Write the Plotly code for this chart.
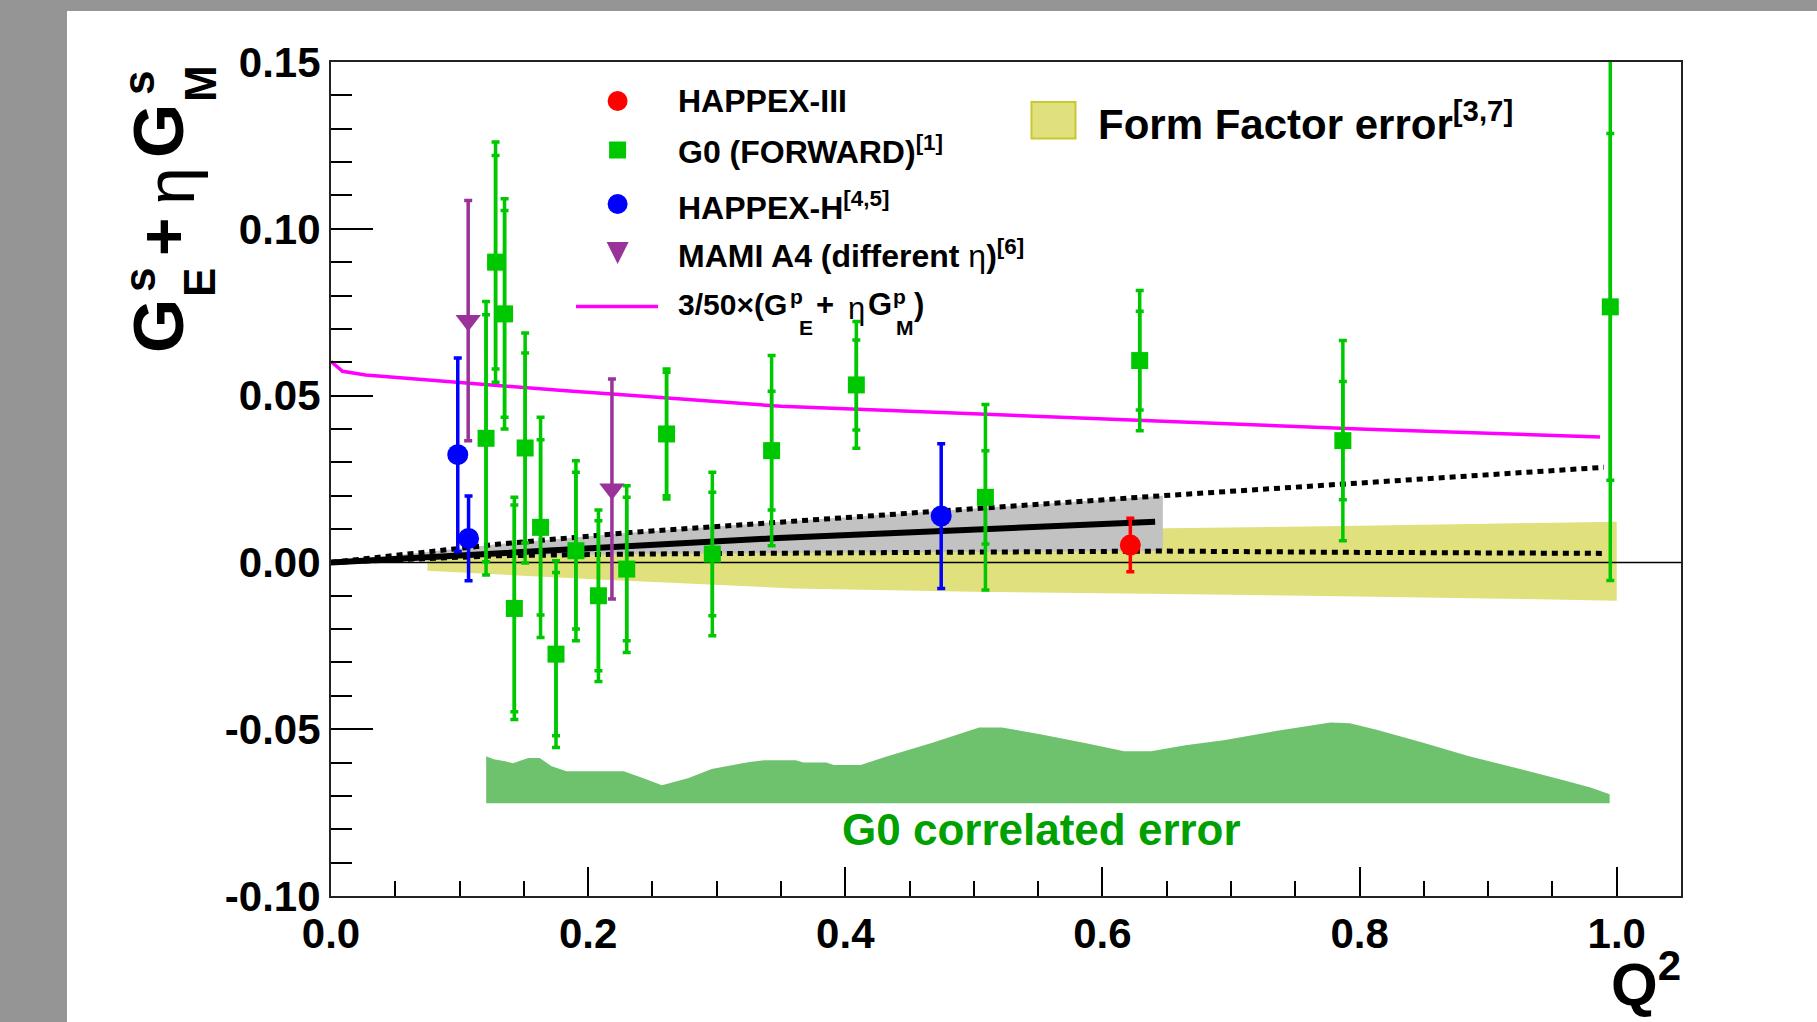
import plotly.graph_objects as go

# ---------------- data ----------------
# G0 forward-angle points: Q2, value, total error, statistical error
g0_q2 = [0.1206, 0.128, 0.135, 0.1426, 0.151, 0.163, 0.175, 0.1905, 0.208, 0.230,
         0.261, 0.2966, 0.3427, 0.4086, 0.509, 0.629, 0.787, 0.995]
g0_val = [0.0372, 0.090, 0.0745, -0.0138, 0.0343, 0.0105, -0.0275, 0.0035, -0.010, -0.002,
          0.0385, 0.0025, 0.0335, 0.0532, 0.0195, 0.0605, 0.0365, 0.0766]
g0_tot = [0.041, 0.036, 0.0345, 0.0333, 0.0345, 0.033, 0.028, 0.027, 0.0257, 0.025,
          0.0195, 0.0245, 0.0285, 0.019, 0.0278, 0.021, 0.030, 0.082]
g0_stat = [0.037, 0.032, 0.031, 0.031, 0.0285, 0.0263, 0.0245, 0.0235, 0.0225, 0.0215,
           0.0185, 0.0185, 0.0178, 0.0135, 0.014, 0.0148, 0.0177, 0.052]

# HAPPEX-H
hh_q2 = [0.0986, 0.107, 0.4746]
hh_val = [0.0323, 0.0072, 0.0139]
hh_err = [0.029, 0.0127, 0.0217]

# HAPPEX-III
h3_q2 = [0.6217]
h3_val = [0.0052]
h3_err = [0.008]

# MAMI A4
mami_q2 = [0.1067, 0.2185]
mami_val = [0.0725, 0.022]
mami_err = [0.036, 0.033]

# 3/50 x (GpE + eta GpM)
mag_q2 = [0.0, 0.009, 0.027, 0.08, 0.13, 0.18, 0.235, 0.29, 0.35, 0.45, 0.6, 0.8, 0.987]
mag_val = [0.0602, 0.0573, 0.0562, 0.0545, 0.053, 0.0515, 0.050, 0.0485, 0.0468, 0.0453,
           0.0431, 0.0400, 0.0376]

# fit (solid) and its error envelope (dotted)
fit_q2 = [0.0, 0.1, 0.193, 0.297, 0.348, 0.641]
fit_val = [0.0, 0.002, 0.004, 0.006, 0.0073, 0.0122]
up_q2 = [0.0, 0.131, 0.234, 0.343, 0.647, 0.99]
up_val = [0.0, 0.0055, 0.009, 0.012, 0.020, 0.0285]
lo_q2 = [0.0, 0.131, 0.234, 0.343, 0.647, 0.8, 0.99]
lo_val = [0.0, 0.002, 0.0025, 0.0028, 0.0034, 0.003, 0.0027]
band_end = 0.647

# Form factor error band
ff_q2 = [0.075, 0.2, 0.36, 0.5, 0.65, 0.8, 0.9, 1.0]
ff_hi = [0.001, 0.003, 0.0055, 0.008, 0.0102, 0.011, 0.0116, 0.0122]
ff_lo = [-0.0025, -0.005, -0.0078, -0.0088, -0.0095, -0.0102, -0.0108, -0.0115]

# G0 correlated error band
corr_q2 = [0.1207, 0.1266, 0.1355, 0.1415, 0.1534, 0.1623, 0.1712, 0.1831, 0.2276, 0.2425,
           0.2574, 0.2782, 0.296, 0.3257, 0.3376, 0.3614, 0.3674, 0.3852, 0.3911, 0.412,
           0.4328, 0.4684, 0.5041, 0.5219, 0.5516, 0.5873, 0.617, 0.6378, 0.6646, 0.6943,
           0.7359, 0.7775, 0.7924, 0.8132, 0.8489, 0.8845, 0.9202, 0.9558, 0.9796, 0.9945]
corr_top = [-0.0581, -0.0590, -0.0596, -0.0602, -0.0586, -0.0586, -0.0610, -0.0626, -0.0626, -0.0646,
            -0.0668, -0.0646, -0.0619, -0.0598, -0.0593, -0.0593, -0.0600, -0.0600, -0.0607, -0.0607,
            -0.0581, -0.0540, -0.0495, -0.0495, -0.0515, -0.0542, -0.0566, -0.0566, -0.0548, -0.0533,
            -0.0505, -0.0480, -0.0482, -0.0502, -0.0540, -0.0580, -0.0615, -0.0650, -0.0675, -0.0695]
corr_bottom = -0.0722

x_range = [0.0, 1.05]
y_range = [-0.10, 0.15]
x_ticks = [0.0, 0.2, 0.4, 0.6, 0.8, 1.0]
x_ticktext = ["0.0", "0.2", "0.4", "0.6", "0.8", "1.0"]
x_minor = [0.05, 0.1, 0.15, 0.25, 0.3, 0.35, 0.45, 0.5, 0.55, 0.65, 0.7, 0.75, 0.85, 0.9, 0.95]
y_ticks = [-0.10, -0.05, 0.0, 0.05, 0.10, 0.15]
y_ticktext = ["-0.10", "-0.05", "0.00", "0.05", "0.10", "0.15"]

# ---------------- styling ----------------
FONT = "Liberation Sans, Arial, Helvetica, sans-serif"
GREEN = "#00c800"
BLUE = "#0000ff"
RED = "#ff0000"
PURPLE = "#993399"
MAGENTA = "#ff00ff"
YELLOW = "#e0e07c"
GRAYBAND = "#c2c2c2"
CORR = "#6ec26e"
BG_GRAY = "#959595"

FIG_W, FIG_H = 1817, 1022
ML, MR, MT, MB = 331, 136, 62, 126
PW = FIG_W - ML - MR
PH = FIG_H - MT - MB


def px(X):
    return (X - ML) / PW


def py(Y):
    return (FIG_H - MB - Y) / PH


fig = go.Figure()

# form factor error band
fig.add_trace(go.Scatter(
    x=ff_q2 + ff_q2[::-1], y=ff_hi + ff_lo[::-1], fill="toself", mode="none",
    fillcolor=YELLOW, hoverinfo="skip", showlegend=False))

# fit envelope (grey) up to band_end
gb_up_x = [q for q in up_q2 if q <= band_end]
gb_up_y = [v for q, v in zip(up_q2, up_val) if q <= band_end]
gb_lo_x = [q for q in lo_q2 if q <= band_end]
gb_lo_y = [v for q, v in zip(lo_q2, lo_val) if q <= band_end]
fig.add_trace(go.Scatter(
    x=gb_up_x + gb_lo_x[::-1], y=gb_up_y + gb_lo_y[::-1], fill="toself", mode="none",
    fillcolor=GRAYBAND, hoverinfo="skip", showlegend=False))

# G0 correlated error band
fig.add_trace(go.Scatter(
    x=corr_q2 + corr_q2[::-1], y=corr_top + [corr_bottom] * len(corr_q2),
    fill="toself", mode="none", fillcolor=CORR, hoverinfo="skip", showlegend=False))

# zero line
fig.add_trace(go.Scatter(x=x_range, y=[0, 0], mode="lines",
                         line=dict(color="black", width=1.5), hoverinfo="skip", showlegend=False))

# dotted envelope lines
fig.add_trace(go.Scatter(x=up_q2, y=up_val, mode="lines",
                         line=dict(color="black", width=5, dash="6px,5px"), showlegend=False))
fig.add_trace(go.Scatter(x=lo_q2, y=lo_val, mode="lines",
                         line=dict(color="black", width=5, dash="6px,5px"), showlegend=False))
# fit line
fig.add_trace(go.Scatter(x=fit_q2, y=fit_val, mode="lines",
                         line=dict(color="black", width=6), showlegend=False))

# magenta curve
fig.add_trace(go.Scatter(x=mag_q2, y=mag_val, mode="lines",
                         line=dict(color=MAGENTA, width=3.5), showlegend=False))

# G0 points: total error, then statistical ticks
fig.add_trace(go.Scatter(
    x=g0_q2, y=g0_val, mode="markers",
    marker=dict(symbol="square", size=17, color=GREEN),
    error_y=dict(type="data", array=g0_tot, color=GREEN, thickness=3.5, width=4),
    showlegend=False))
fig.add_trace(go.Scatter(
    x=g0_q2, y=g0_val, mode="markers",
    marker=dict(symbol="square", size=1, color=GREEN, opacity=0),
    error_y=dict(type="data", array=g0_stat, color=GREEN, thickness=3.5, width=4),
    showlegend=False))

# HAPPEX-H
fig.add_trace(go.Scatter(
    x=hh_q2, y=hh_val, mode="markers",
    marker=dict(symbol="circle", size=21, color=BLUE),
    error_y=dict(type="data", array=hh_err, color=BLUE, thickness=3.5, width=4),
    showlegend=False))

# MAMI
fig.add_trace(go.Scatter(
    x=mami_q2, y=mami_val, mode="markers",
    marker=dict(symbol="triangle-down", size=22, color=PURPLE),
    error_y=dict(type="data", array=mami_err, color=PURPLE, thickness=3.5, width=4),
    showlegend=False))

# HAPPEX-III
fig.add_trace(go.Scatter(
    x=h3_q2, y=h3_val, mode="markers",
    marker=dict(symbol="circle", size=21, color=RED),
    error_y=dict(type="data", array=h3_err, color=RED, thickness=3.5, width=4),
    showlegend=False))

# ---------------- annotations ----------------
annotations = []


def ann(text, X, Y, size, color="black", bold=True, xanchor="center", yanchor="middle", angle=0):
    annotations.append(dict(
        text=text, x=px(X), y=py(Y), xref="paper", yref="paper", showarrow=False,
        xanchor=xanchor, yanchor=yanchor, textangle=angle,
        font=dict(family=FONT, size=size, color=color, weight="bold" if bold else "normal")))


# y-axis title (rotated, stacked sub/superscripts)
ann("G", 159, 326, 70, angle=-90)
ann("s", 139, 280, 44, angle=-90)
ann("E", 199, 283, 44, angle=-90)
ann("+", 163, 237, 66, angle=-90)
ann("η", 170, 186, 68, bold=False, angle=-90)
ann("G", 159, 131, 70, angle=-90)
ann("s", 139, 83, 44, angle=-90)
ann("M", 201, 84, 44, angle=-90)

# x-axis title
ann("Q<sup>2</sup>", 1683, 980, 60, xanchor="right")

# legend texts
LX = 676
ann("HAPPEX-III", LX, 101, 32, xanchor="left")
ann("G0 (FORWARD)<sup>[1]</sup>", LX, 150, 32, xanchor="left")
ann("HAPPEX-H<sup>[4,5]</sup>", LX, 206, 32, xanchor="left")
ann("MAMI A4 (different <span style='font-weight:normal'>η</span>)<sup>[6]</sup>", LX, 254, 32,
    xanchor="left")
ann("3/50×(G", LX, 304, 30, xanchor="left")
ann("p", 788, 296, 21, xanchor="left")
ann("E", 797, 327, 21, xanchor="left")
ann("+", 814, 304, 31, xanchor="left")
ann("η", 846, 308, 31, bold=False, xanchor="left")
ann("G", 866, 304, 31, xanchor="left")
ann("p", 891, 296, 21, xanchor="left")
ann("M", 894, 327, 21, xanchor="left")
ann(")", 912, 304, 31, xanchor="left")
ann("Form Factor error<sup>[3,7]</sup>", 1096, 121, 42, xanchor="left")

# band label
annotations.append(dict(
    text="G0 correlated error", x=0.5523, y=-0.080, xref="x", yref="y", showarrow=False,
    xanchor="center", yanchor="middle",
    font=dict(family=FONT, size=44, color="#00a000", weight="bold")))

# ---------------- legend glyphs & frame decorations ----------------
shapes = []
MX = 617.6


def pshape(**kw):
    d = dict(xref="paper", yref="paper", layer="above")
    d.update(kw)
    shapes.append(d)


r = 10
pshape(type="circle", x0=px(MX - r), x1=px(MX + r), y0=py(101 + r), y1=py(101 - r),
       fillcolor=RED, line=dict(width=0))
s = 8.5
pshape(type="rect", x0=px(MX - s), x1=px(MX + s), y0=py(150 + s), y1=py(150 - s),
       fillcolor=GREEN, line=dict(width=0))
pshape(type="circle", x0=px(MX - r), x1=px(MX + r), y0=py(204 + r), y1=py(204 - r),
       fillcolor=BLUE, line=dict(width=0))
tri = "M {} {} L {} {} L {} {} Z".format(px(MX - 11), py(242), px(MX + 11), py(242), px(MX), py(264))
pshape(type="path", path=tri, fillcolor=PURPLE, line=dict(width=0))
pshape(type="line", x0=px(576), x1=px(658), y0=py(306.5), y1=py(306.5),
       line=dict(color=MAGENTA, width=3.5))
pshape(type="rect", x0=px(1031.5), x1=px(1075.5), y0=py(138.5), y1=py(102),
       fillcolor=YELLOW, line=dict(color="#c8c832", width=2))

# outer grey canvas strips
pshape(type="rect", x0=px(0), x1=px(67), y0=py(FIG_H), y1=py(0),
       fillcolor=BG_GRAY, line=dict(width=0))
pshape(type="rect", x0=px(0), x1=px(FIG_W), y0=py(11), y1=py(0),
       fillcolor=BG_GRAY, line=dict(width=0))

tickfont = dict(family=FONT, size=42, color="black", weight="bold")

fig.update_layout(
    width=FIG_W, height=FIG_H,
    margin=dict(l=ML, r=MR, t=MT, b=MB, pad=0),
    paper_bgcolor="white", plot_bgcolor="white",
    showlegend=False,
    annotations=annotations, shapes=shapes,
    xaxis=dict(
        range=x_range, tickmode="array", tickvals=x_ticks, ticktext=x_ticktext,
        showgrid=False, zeroline=False, showline=True, mirror=True,
        linecolor="#222222", linewidth=2, ticks="inside", ticklen=29, tickwidth=2,
        tickcolor="black", tickfont=tickfont, automargin=False, ticklabelstandoff=0,
        minor=dict(tickmode="array", tickvals=x_minor,
                   ticks="inside", ticklen=15, tickwidth=2, tickcolor="black"),
    ),
    yaxis=dict(
        range=y_range, tickmode="array", tickvals=y_ticks, ticktext=y_ticktext,
        showgrid=False, zeroline=False, showline=True, mirror=True,
        linecolor="#222222", linewidth=2, ticks="inside", ticklen=42, tickwidth=2,
        tickcolor="black", tickfont=tickfont, automargin=False, ticklabelstandoff=0,
        minor=dict(dtick=0.01, tick0=0.0, ticks="inside", ticklen=21, tickwidth=2,
                   tickcolor="black"),
    ),
)

fig.write_html("out.html", config={"displayModeBar": False},
               post_script="document.body.style.margin='0px';")
